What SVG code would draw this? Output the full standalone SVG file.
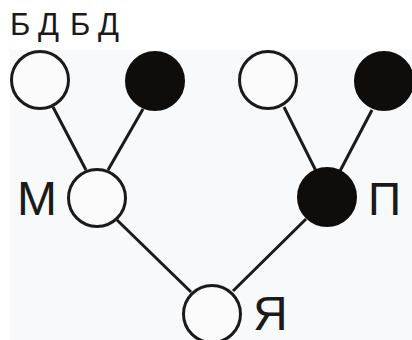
<svg xmlns="http://www.w3.org/2000/svg" width="412" height="340" viewBox="0 0 412 340">
<style>
.open{fill:#fbfbfc;stroke:#1a1a1a;stroke-width:3}
.filled{fill:#0f0d0c;stroke:#0f0d0c;stroke-width:2}
.edge{stroke:#1a1a1a;stroke-width:3;fill:none}
.lbl{font-family:"Liberation Sans",Arial,sans-serif;fill:#1a1a1a}
</style>
<rect x="0" y="0" width="412" height="340" fill="#ffffff"/>
<rect x="10" y="50" width="402" height="290" fill="#f8f9fa"/>
<text class="lbl" x="10 32 38 60 70 92 98" y="35" font-size="31">Б Д Б Д</text>
<g id="edges">
<line class="edge" x1="53" y1="107" x2="86" y2="170"/>
<line class="edge" x1="143" y1="109" x2="108" y2="170"/>
<line class="edge" x1="284" y1="107" x2="316" y2="171"/>
<line class="edge" x1="372" y1="110" x2="340" y2="171"/>
<line class="edge" x1="117" y1="220" x2="191" y2="292"/>
<line class="edge" x1="306" y1="219" x2="233" y2="291"/>
</g>
<g id="n1"><circle class="open" cx="40" cy="80" r="28.5"/></g>
<g id="n2"><circle class="filled" cx="155" cy="81" r="29"/></g>
<g id="n3"><circle class="open" cx="268" cy="80" r="28.5"/></g>
<g id="n4"><circle class="filled" cx="384" cy="81" r="29"/></g>
<g id="m"><circle class="open" cx="97" cy="198" r="28.5"/><text class="lbl" x="17" y="215" font-size="48">М</text></g>
<g id="p"><circle class="filled" cx="327" cy="197" r="29"/><text class="lbl" x="368" y="215" font-size="46">П</text></g>
<g id="ya"><circle class="open" cx="212" cy="314" r="28.5"/><text class="lbl" x="253" y="330" font-size="48">Я</text></g>
</svg>
